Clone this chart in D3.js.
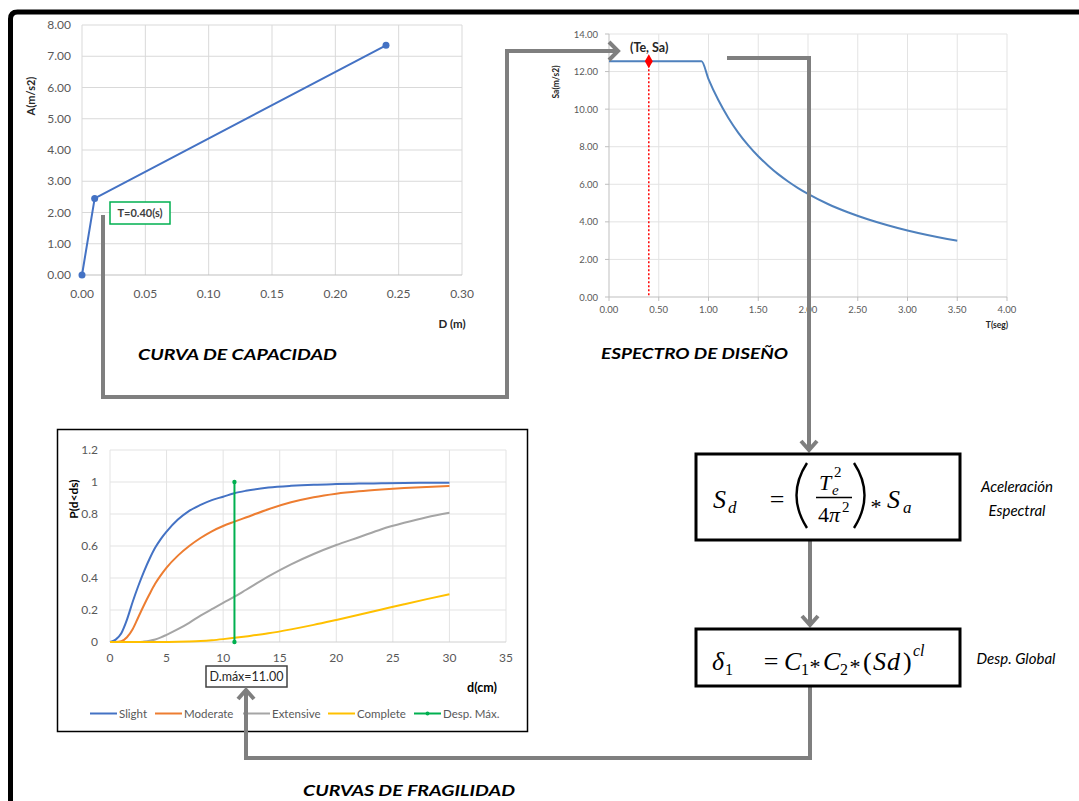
<!DOCTYPE html>
<html><head><meta charset="utf-8">
<script src="https://cdn.jsdelivr.net/npm/d3@7"></script>
<style>
html,body{margin:0;padding:0;background:#fff;}
svg{display:block;}
text{font-family:Lato,"Open Sans",sans-serif;}
text.math{font-family:"Liberation Serif","DejaVu Serif",serif;}
</style></head>
<body>
<svg id="c" width="1079" height="801"></svg>
<script>
// ---------- DATA ----------
// Capacity curve (D in m, A in m/s2)
const capD = [0, 0.01, 0.24];
const capA = [0, 2.45, 7.35];
const capXTicks = [0, 0.05, 0.10, 0.15, 0.20, 0.25, 0.30];
const capYTicks = [0, 1, 2, 3, 4, 5, 6, 7, 8];

// Design spectrum (T in s, Sa in m/s2)
const specT  = [0, 0.40, 0.93, 1.00, 1.10, 1.20, 1.30, 1.40, 1.50, 1.60, 1.70, 1.80, 1.90, 2.00, 2.20, 2.40, 2.60, 2.80, 3.00, 3.20, 3.40, 3.50];
const specSa = [12.55, 12.55, 12.55, 11.60, 10.47, 9.53, 8.74, 8.07, 7.49, 6.99, 6.54, 6.15, 5.80, 5.49, 4.95, 4.51, 4.14, 3.82, 3.54, 3.30, 3.09, 3.00];
const specXTicks = [0, 0.5, 1, 1.5, 2, 2.5, 3, 3.5, 4];
const specYTicks = [0, 2, 4, 6, 8, 10, 12, 14];
const teT = 0.40, teSa = 12.55;

// Fragility curves (d in cm, probability)
const fragD       = [0, 0.5, 1, 1.5, 2, 2.5, 3, 3.5, 4, 4.5, 5, 6, 7, 8, 9, 10, 11, 12, 14, 16, 18, 20, 22, 24, 26, 28, 30];
const slight      = [0, 0.015, 0.055, 0.14, 0.25, 0.35, 0.44, 0.52, 0.59, 0.645, 0.69, 0.765, 0.82, 0.857, 0.887, 0.908, 0.93, 0.945, 0.965, 0.976, 0.983, 0.987, 0.99, 0.992, 0.994, 0.995, 0.996];
const moderate    = [0, 0, 0.005, 0.03, 0.08, 0.155, 0.23, 0.30, 0.365, 0.418, 0.465, 0.54, 0.60, 0.65, 0.692, 0.725, 0.752, 0.778, 0.83, 0.873, 0.905, 0.927, 0.942, 0.953, 0.962, 0.969, 0.975];
const extensive   = [0, 0, 0, 0, 0, 0, 0.003, 0.008, 0.016, 0.029, 0.045, 0.08, 0.12, 0.165, 0.205, 0.245, 0.283, 0.325, 0.41, 0.485, 0.55, 0.606, 0.655, 0.705, 0.745, 0.78, 0.808];
const complete    = [0, 0, 0, 0, 0, 0, 0, 0, 0, 0, 0, 0.001, 0.003, 0.006, 0.011, 0.018, 0.026, 0.035, 0.054, 0.079, 0.107, 0.138, 0.17, 0.203, 0.236, 0.268, 0.298];
const seriesNames = ["Slight", "Moderate", "Extensive", "Complete"];
const seriesColors = ["#4472C4", "#ED7D31", "#A5A5A5", "#FFC000"];
const dMax = 11.00;
const dMaxP = [0, 1];
const fragXTicks = [0, 5, 10, 15, 20, 25, 30, 35];
const fragYTicks = [0, 0.2, 0.4, 0.6, 0.8, 1, 1.2];

// ---------- DRAW ----------
const svg = d3.select("#c");
const GRAY = "#7f7f7f";
const TXT = "#595959";

// outer frame
svg.append("path").attr("d","M10.5,801 L10.5,19 Q10.5,12 17.5,12 L1079,12")
  .attr("fill","none").attr("stroke","#000").attr("stroke-width",5);

// ===== Chart 1: capacity curve =====
{
  const x = d3.scaleLinear().domain([0,0.30]).range([82,462]);
  const y = d3.scaleLinear().domain([0,8]).range([275,25]);
  const g = svg.append("g");
  g.selectAll("line.vx").data(capXTicks).join("line")
    .attr("x1",d=>x(d)).attr("x2",d=>x(d)).attr("y1",y(0)).attr("y2",y(8))
    .attr("stroke","#d9d9d9").attr("stroke-width",1);
  g.selectAll("line.hy").data(capYTicks).join("line")
    .attr("x1",x(0)).attr("x2",x(0.30)).attr("y1",d=>y(d)).attr("y2",d=>y(d))
    .attr("stroke",d=>d===0?"#bfbfbf":"#d9d9d9").attr("stroke-width",1);
  g.selectAll("text.xl").data(capXTicks).join("text")
    .attr("x",d=>x(d)).attr("y",298).attr("text-anchor","middle")
    .attr("font-size",12).attr("fill",TXT).text(d=>d.toFixed(2));
  g.selectAll("text.yl").data(capYTicks).join("text")
    .attr("x",71).attr("y",d=>y(d)+4).attr("text-anchor","end")
    .attr("font-size",12).attr("fill",TXT).text(d=>d.toFixed(2));
  const pts = capD.map((d,i)=>[d,capA[i]]);
  g.append("path").datum(pts).attr("fill","none").attr("stroke","#4472C4").attr("stroke-width",2)
    .attr("d",d3.line().x(d=>x(d[0])).y(d=>y(d[1])));
  g.selectAll("circle").data(pts).join("circle")
    .attr("cx",d=>x(d[0])).attr("cy",d=>y(d[1])).attr("r",3.5).attr("fill","#4472C4");
  g.append("text").attr("transform","translate(35,96) rotate(-90)").attr("text-anchor","middle")
    .attr("font-size",11).attr("font-weight","bold").attr("fill","#262626").text("A(m/s2)");
  g.append("text").attr("x",452).attr("y",328).attr("text-anchor","middle")
    .attr("font-size",11.5).attr("font-weight","bold").attr("fill","#262626").text("D (m)");
  g.append("rect").attr("x",110).attr("y",202).attr("width",60).attr("height",22)
    .attr("fill","#fff").attr("stroke","#00B050").attr("stroke-width",1.5);
  g.append("text").attr("x",140).attr("y",217).attr("text-anchor","middle")
    .attr("font-size",11).attr("font-weight","bold").attr("fill","#404040").text("T=0.40(s)");
  g.append("text").attr("x",138).attr("y",360).attr("font-size",16).attr("font-weight","bold")
    .attr("font-style","italic").attr("fill","#000").attr("textLength",199).attr("lengthAdjust","spacingAndGlyphs")
    .text("CURVA DE CAPACIDAD");
}

// ===== Chart 2: design spectrum =====
{
  const x = d3.scaleLinear().domain([0,4]).range([609,1007]);
  const y = d3.scaleLinear().domain([0,14]).range([297,34]);
  const g = svg.append("g");
  g.selectAll("line.vx").data(specXTicks.slice(1)).join("line")
    .attr("x1",d=>x(d)).attr("x2",d=>x(d)).attr("y1",y(0)).attr("y2",y(14))
    .attr("stroke","#e3e3e3").attr("stroke-width",1);
  g.selectAll("line.hy").data(specYTicks.slice(1)).join("line")
    .attr("x1",x(0)).attr("x2",x(4)).attr("y1",d=>y(d)).attr("y2",d=>y(d))
    .attr("stroke","#e3e3e3").attr("stroke-width",1);
  g.append("line").attr("x1",x(0)).attr("x2",x(4)).attr("y1",y(0)).attr("y2",y(0)).attr("stroke","#bfbfbf");
  g.append("line").attr("x1",x(0)).attr("x2",x(0)).attr("y1",y(0)).attr("y2",y(14)).attr("stroke","#bfbfbf");
  g.selectAll("line.tx").data(specXTicks).join("line")
    .attr("x1",d=>x(d)).attr("x2",d=>x(d)).attr("y1",y(0)).attr("y2",y(0)+4).attr("stroke","#bfbfbf");
  g.selectAll("line.ty").data(specYTicks).join("line")
    .attr("x1",x(0)-4).attr("x2",x(0)).attr("y1",d=>y(d)).attr("y2",d=>y(d)).attr("stroke","#bfbfbf");
  g.selectAll("text.xl").data(specXTicks).join("text")
    .attr("x",d=>x(d)).attr("y",313).attr("text-anchor","middle")
    .attr("font-size",9.5).attr("fill",TXT).text(d=>d.toFixed(2));
  g.selectAll("text.yl").data(specYTicks).join("text")
    .attr("x",598).attr("y",d=>y(d)+3.5).attr("text-anchor","end")
    .attr("font-size",9.5).attr("fill",TXT).text(d=>d.toFixed(2));
  const pts = specT.map((t,i)=>[t,specSa[i]]);
  g.append("path").datum(pts).attr("fill","none").attr("stroke","#4F81BD").attr("stroke-width",2)
    .attr("d",d3.line().curve(d3.curveMonotoneX).x(d=>x(d[0])).y(d=>y(d[1])));
  g.append("line").attr("x1",x(teT)).attr("x2",x(teT)).attr("y1",y(teSa)).attr("y2",y(0))
    .attr("stroke","#FF0000").attr("stroke-width",1.5).attr("stroke-dasharray","2,2");
  g.append("path").attr("d",d3.symbol(d3.symbolDiamond,55)())
    .attr("transform",`translate(${x(teT)},${y(teSa)})`).attr("fill","#FF0000");
  g.append("text").attr("transform","translate(559,82) rotate(-90)").attr("text-anchor","middle")
    .attr("font-size",8.5).attr("font-weight","bold").attr("fill","#262626").text("Sa(m/s2)");
  g.append("text").attr("x",997).attr("y",328).attr("text-anchor","middle")
    .attr("font-size",8.5).attr("font-weight","bold").attr("fill","#262626").text("T(seg)");
  g.append("text").attr("x",630).attr("y",52).attr("font-size",12.5).attr("font-weight","bold")
    .attr("fill","#262626").text("(Te, Sa)");
  g.append("text").attr("x",601).attr("y",359).attr("font-size",16).attr("font-weight","bold")
    .attr("font-style","italic").attr("fill","#000").attr("textLength",187).attr("lengthAdjust","spacingAndGlyphs")
    .text("ESPECTRO DE DISEÑO");
}

// ===== Chart 3: fragility curves =====
{
  svg.append("rect").attr("x",57.5).attr("y",429.5).attr("width",470).attr("height",302)
    .attr("fill","#fff").attr("stroke","#000").attr("stroke-width",1.5);
  const x = d3.scaleLinear().domain([0,35]).range([110,506]);
  const y = d3.scaleLinear().domain([0,1.2]).range([642,450]);
  const g = svg.append("g");
  g.selectAll("line.vx").data(fragXTicks).join("line")
    .attr("x1",d=>x(d)).attr("x2",d=>x(d)).attr("y1",y(0)).attr("y2",y(1.2))
    .attr("stroke","#e3e3e3").attr("stroke-width",1);
  g.selectAll("line.hy").data(fragYTicks).join("line")
    .attr("x1",x(0)).attr("x2",x(35)).attr("y1",d=>y(d)).attr("y2",d=>y(d))
    .attr("stroke",d=>d===0?"#d0d0d0":"#e3e3e3").attr("stroke-width",1);
  g.selectAll("text.xl").data(fragXTicks).join("text")
    .attr("x",d=>x(d)).attr("y",662).attr("text-anchor","middle")
    .attr("font-size",12).attr("fill",TXT).text(d=>d);
  g.selectAll("text.yl").data(fragYTicks).join("text")
    .attr("x",98).attr("y",d=>y(d)+4).attr("text-anchor","end")
    .attr("font-size",12).attr("fill",TXT).text(d=>d);
  const all = [slight, moderate, extensive, complete];
  const line = d3.line().curve(d3.curveMonotoneX).x(d=>x(d[0])).y(d=>y(d[1]));
  all.forEach((s,k)=>{
    g.append("path").datum(fragD.map((d,i)=>[d,s[i]])).attr("fill","none")
      .attr("stroke",seriesColors[k]).attr("stroke-width",2).attr("d",line);
  });
  g.append("line").attr("x1",x(dMax)).attr("x2",x(dMax)).attr("y1",y(dMaxP[0])).attr("y2",y(dMaxP[1]))
    .attr("stroke","#00B050").attr("stroke-width",2);
  g.selectAll("circle.dm").data(dMaxP).join("circle").attr("cx",x(dMax)).attr("cy",d=>y(d)).attr("r",2.2).attr("fill","#00B050");
  g.append("text").attr("transform","translate(78,499) rotate(-90)").attr("text-anchor","middle")
    .attr("font-size",12).attr("font-weight","bold").attr("fill","#000").text("P(d<ds)");
  g.append("text").attr("x",482).attr("y",692).attr("text-anchor","middle")
    .attr("font-size",12.5).attr("font-weight","bold").attr("fill","#000").text("d(cm)");
  g.append("rect").attr("x",206).attr("y",666).attr("width",81).attr("height",21)
    .attr("fill","#fff").attr("stroke","#404040").attr("stroke-width",1.5);
  g.append("text").attr("x",246.5).attr("y",681).attr("text-anchor","middle")
    .attr("font-size",12.5).attr("fill","#262626").text("D.máx=" + dMax.toFixed(2));
  const legNames = seriesNames.concat(["Desp. Máx."]);
  const legColors = seriesColors.concat(["#00B050"]);
  const legX = [90, 155, 243, 328, 414];
  legNames.forEach((n,i)=>{
    g.append("line").attr("x1",legX[i]).attr("x2",legX[i]+27).attr("y1",713.5).attr("y2",713.5)
      .attr("stroke",legColors[i]).attr("stroke-width",2);
    if(i===4) g.append("circle").attr("cx",legX[i]+13.5).attr("cy",713.5).attr("r",2).attr("fill",legColors[i]);
    g.append("text").attr("x",legX[i]+29).attr("y",717.5).attr("font-size",11.5).attr("fill",TXT).text(n);
  });
}

// ===== Connectors =====
{
  const g = svg.append("g").attr("fill","none").attr("stroke",GRAY).attr("stroke-width",4)
    .attr("stroke-linejoin","miter");
  g.append("path").attr("d","M103,215 L103,397 L507,397 L507,51 L617,51");
  g.append("path").attr("d","M609,42 L618,51 L609,60");
  g.append("path").attr("d","M727,58 L809,58 L809,450");
  g.append("path").attr("d","M801,441 L809,450 L817,441");
  g.append("path").attr("d","M810,541 L810,625");
  g.append("path").attr("d","M802,616 L810,625 L818,616");
  g.append("path").attr("d","M810,687 L810,758 L246,758 L246,690");
  g.append("path").attr("d","M238,699 L246,690 L254,699");
}

// ===== Formula boxes =====
{
  const g = svg.append("g");
  g.append("rect").attr("x",696).attr("y",454).attr("width",264).attr("height",86)
    .attr("fill","#fff").attr("stroke","#000").attr("stroke-width",3);
  g.append("rect").attr("x",696).attr("y",629).attr("width",264).attr("height",57)
    .attr("fill","#fff").attr("stroke","#000").attr("stroke-width",3);
  const t = (x,y,s,txt,it=true,anchor="start")=>g.append("text").attr("class","math").attr("x",x).attr("y",y).attr("font-size",s)
      .attr("text-anchor",anchor).style("font-style",it?"italic":"normal").attr("fill","#000").text(txt);
  // formula 1
  t(713,508,26,"S"); t(728,513,17,"d");
  t(777,508,26,"=",false,"middle");
  g.append("path").attr("d","M807,463 Q786,495 807,528").attr("fill","none").attr("stroke","#000").attr("stroke-width",2.4);
  g.append("path").attr("d","M854,463 Q875,495 854,528").attr("fill","none").attr("stroke","#000").attr("stroke-width",2.4);
  t(819,490,22,"T"); t(832,495,15,"e"); t(834,477,15,"2",false);
  g.append("line").attr("x1",816).attr("x2",852).attr("y1",497.5).attr("y2",497.5).attr("stroke","#000").attr("stroke-width",1.3);
  t(818,522,22,"4",false); t(829,522,22,"π"); t(842,512,15,"2",false);
  t(876,514,22,"*",false,"middle");
  t(887,508,26,"S"); t(903,513,17,"a");
  // formula 2
  t(712,670,26,"δ"); t(725,675,16,"1",false);
  t(771,670,26,"=",false,"middle");
  t(784,670,26,"C"); t(801,675,16,"1",false);
  t(815,674,22,"*",false,"middle");
  t(823,670,26,"C"); t(840,675,16,"2",false);
  t(855,674,22,"*",false,"middle");
  t(863,670,26,"(",false); t(873,670,26,"S"); t(887,670,26,"d"); t(903,670,26,")",false);
  t(913,656,16,"cl");
  const s = (x,y,txt)=>g.append("text").attr("x",x).attr("y",y).attr("text-anchor","middle")
      .attr("font-size",15).attr("font-style","italic").attr("fill","#000").text(txt);
  s(1017,492,"Aceleración"); s(1017,516,"Espectral"); s(1016,664,"Desp. Global");
}

// bottom title
svg.append("text").attr("x",303).attr("y",796).attr("font-size",16).attr("font-weight","bold")
  .attr("font-style","italic").attr("fill","#000").attr("textLength",212).attr("lengthAdjust","spacingAndGlyphs")
  .text("CURVAS DE FRAGILIDAD");
</script>
</body></html>
